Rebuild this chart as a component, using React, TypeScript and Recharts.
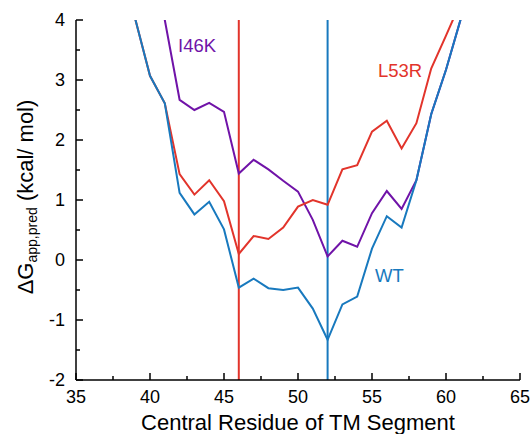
import React from 'react';
import { LineChart, Line, XAxis, YAxis, ReferenceLine, ReferenceDot } from 'recharts';

const residues = [39, 40, 41, 42, 43, 44, 45, 46, 47, 48, 49, 50, 51, 52, 53, 54, 55, 56, 57, 58, 59, 60, 61];
const wt = [4.02, 3.07, 2.61, 1.12, 0.76, 0.97, 0.51, -0.46, -0.31, -0.47, -0.5, -0.46, -0.81, -1.33, -0.74, -0.61, 0.19, 0.73, 0.54, 1.33, 2.43, 3.17, 4.02];
const l53r = [4.02, 3.07, 2.61, 1.43, 1.09, 1.33, 0.98, 0.1, 0.4, 0.35, 0.54, 0.89, 1.0, 0.92, 1.51, 1.58, 2.14, 2.32, 1.86, 2.28, 3.19, 3.74, 4.3];
const i46k = [null, 5.5, 4.0, 2.67, 2.5, 2.62, 2.47, 1.44, 1.67, 1.51, 1.32, 1.14, 0.67, 0.06, 0.32, 0.22, 0.78, 1.15, 0.85, 1.33, 2.43, 3.17, 4.02];

const xTicks = [35, 37.5, 40, 42.5, 45, 47.5, 50, 52.5, 55, 57.5, 60, 62.5, 65];
const yTicks = [-2, -1.5, -1, -0.5, 0, 0.5, 1, 1.5, 2, 2.5, 3, 3.5, 4];
const mutationSites = [46, 52];

const labelNames = ['I46K', 'L53R', 'WT'];
const labelX = [41.9, 55.4, 55.2];
const labelY = [3.47, 3.05, -0.37];

const RED = '#e2342b';
const BLUE = '#1879be';
const PURPLE = '#7013a8';
const labelColors = [PURPLE, RED, BLUE];
const siteColors = [RED, BLUE];

const FONT = '"Liberation Sans", Arial, Helvetica, sans-serif';

const data = residues.map((r, i) => ({ x: r, wt: wt[i], l53r: l53r[i], i46k: i46k[i] }));

const XTick = (props: any) => {
  const { x, y, payload } = props;
  const v = payload.value;
  const major = v % 5 === 0;
  return (
    <g>
      <line x1={x} y1={y} x2={x} y2={y - (major ? 7 : 4)} stroke="#000" strokeWidth={1.5} />
      {major && (
        <text x={x} y={y + 23} textAnchor="middle" fontSize={18} fontFamily={FONT} fill="#000">
          {v}
        </text>
      )}
    </g>
  );
};

const YTick = (props: any) => {
  const { x, y, payload } = props;
  const v = payload.value;
  const major = Number.isInteger(v);
  return (
    <g>
      <line x1={x} y1={y} x2={x + (major ? 7 : 4)} y2={y} stroke="#000" strokeWidth={1.5} />
      {major && (
        <text x={x - 11} y={y} dy="0.35em" textAnchor="end" fontSize={18} fontFamily={FONT} fill="#000">
          {v}
        </text>
      )}
    </g>
  );
};

const YLabel = () => (
  <text transform="translate(33,197) rotate(-90)" textAnchor="middle" fontFamily={FONT} fill="#000" fontSize={22}>
    <tspan>ΔG</tspan>
    <tspan fontSize={14} dy={4}>app,pred</tspan>
    <tspan dy={-4}> (kcal/ mol)</tspan>
  </text>
);

const XLabel = (props: any) => {
  const vb = props.viewBox || { x: 76, width: 444 };
  return (
    <text x={vb.x + vb.width / 2} y={430} textAnchor="middle" fontFamily={FONT} fontSize={22} fill="#000">
      Central Residue of TM Segment
    </text>
  );
};

export default function App() {
  return (
    <div style={{ position: 'absolute', left: 0, top: 0, width: 531, height: 434, background: '#fff' }}>
      <LineChart width={531} height={434} data={data} margin={{ top: 20, right: 11, left: 0, bottom: 0 }}>
        <XAxis
          dataKey="x"
          type="number"
          domain={[35, 65]}
          ticks={xTicks}
          interval={0}
          tick={<XTick />}
          tickLine={false}
          tickSize={0}
          tickMargin={0}
          height={54}
          axisLine={{ stroke: '#000', strokeWidth: 1.5 }}
          allowDataOverflow
          label={{ content: (p: any) => <XLabel {...p} /> }}
        />
        <YAxis
          type="number"
          domain={[-2, 4]}
          ticks={yTicks}
          interval={0}
          tick={<YTick />}
          tickLine={false}
          tickSize={0}
          tickMargin={0}
          width={76}
          axisLine={{ stroke: '#000', strokeWidth: 1.5 }}
          allowDataOverflow
          label={{ content: () => <YLabel /> }}
        />
        {mutationSites.map((s, i) => (
          <ReferenceLine key={s} x={s} stroke={siteColors[i]} strokeWidth={2} />
        ))}
        <Line dataKey="i46k" stroke={PURPLE} strokeWidth={2} dot={false} isAnimationActive={false} connectNulls={false} />
        <Line dataKey="l53r" stroke={RED} strokeWidth={2} dot={false} isAnimationActive={false} />
        <Line dataKey="wt" stroke={BLUE} strokeWidth={2} dot={false} isAnimationActive={false} />
        {labelNames.map((n, i) => (
          <ReferenceDot
            key={n}
            x={labelX[i]}
            y={labelY[i]}
            r={0}
            fill="none"
            stroke="none"
            label={{
              content: (p: any) => {
                const vb = p.viewBox || { x: 0, y: 0 };
                return (
                  <text x={vb.x} y={vb.y} fontFamily={FONT} fontSize={18.5} fill={labelColors[i]}>
                    {n}
                  </text>
                );
              },
            }}
          />
        ))}
      </LineChart>
    </div>
  );
}
